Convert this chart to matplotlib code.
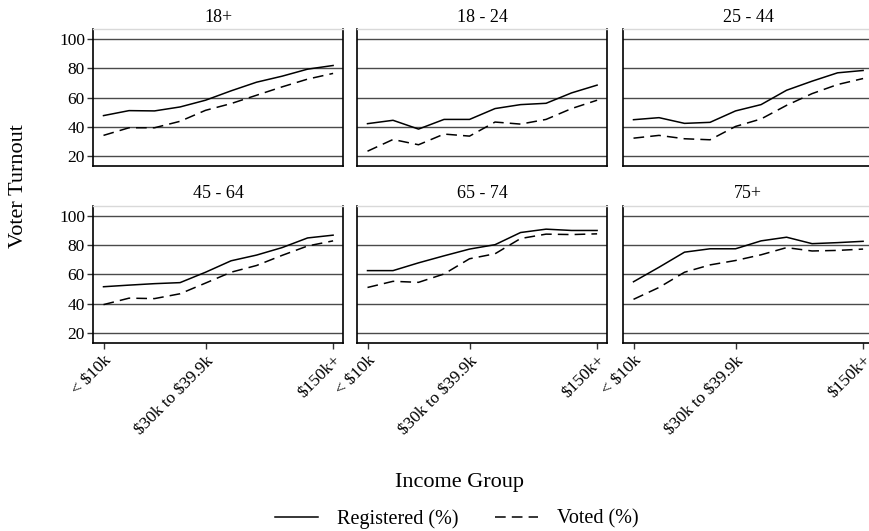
import matplotlib
matplotlib.use("Agg")
import matplotlib.pyplot as plt
from matplotlib.lines import Line2D

plt.rcParams['font.family'] = ['Liberation Serif', 'DejaVu Serif']

income_groups = ["< $10k", "$10k to $14.9k", "$15k to $19.9k", "$20k to $29.9k",
                 "$30k to $39.9k", "$40k to $49.9k", "$50k to $74.9k",
                 "$75k to $99.9k", "$100k to $149.9k", "$150k+"]
shown_ticks = [0, 4, 9]

age_groups = ["18+", "18 - 24", "25 - 44", "45 - 64", "65 - 74", "75+"]

registered = {
    "18+":     [47.7, 51.1, 50.9, 53.6, 58.2, 64.6, 70.5, 74.6, 79.4, 81.9],
    "18 - 24": [42.2, 44.5, 38.5, 45.1, 45.1, 52.5, 55.2, 56.1, 63.2, 68.5],
    "25 - 44": [44.9, 46.3, 42.4, 43.1, 50.9, 55.2, 65.0, 71.2, 76.9, 78.5],
    "45 - 64": [51.5, 52.6, 53.6, 54.3, 61.4, 69.2, 73.1, 78.2, 84.8, 86.7],
    "65 - 74": [62.5, 62.5, 67.8, 72.6, 77.2, 80.2, 88.5, 90.8, 89.9, 89.9],
    "75+":     [54.9, 64.8, 75.1, 77.4, 77.4, 82.8, 85.3, 80.9, 81.6, 82.5],
}
voted = {
    "18+":     [34.2, 39.4, 39.4, 43.8, 51.3, 55.9, 61.6, 67.3, 72.6, 76.5],
    "18 - 24": [23.4, 31.4, 27.8, 35.1, 33.7, 43.3, 41.9, 45.1, 52.5, 58.2],
    "25 - 44": [32.3, 34.2, 31.9, 31.2, 40.3, 45.4, 54.7, 62.7, 68.9, 73.0],
    "45 - 64": [39.3, 43.7, 43.4, 46.7, 54.0, 61.4, 66.0, 72.9, 79.3, 82.8],
    "65 - 74": [51.0, 55.2, 54.5, 60.2, 70.6, 74.0, 84.4, 87.4, 87.1, 87.6],
    "75+":     [42.9, 51.0, 61.4, 66.4, 69.4, 73.3, 78.2, 75.9, 76.3, 77.2],
}
y_ticks = [20, 40, 60, 80, 100]

W, H = 870, 531
fig = plt.figure(figsize=(W / 100, H / 100), dpi=100)

lefts = [93.3, 357.3, 623.3]
tops = [29.3, 206.0]
aw, ah = 250.0, 137.0

dash = (0, (7, 4))
for i, age in enumerate(age_groups):
    r, c = divmod(i, 3)
    x0 = lefts[c] / W
    y0 = 1 - (tops[r] + ah) / H
    ax = fig.add_axes([x0, y0, aw / W, ah / H])
    xs = list(range(len(income_groups)))
    for yt in y_ticks:
        ax.axhline(yt, color='#4a4a4a', lw=1.0, zorder=1)
    ax.plot(xs, registered[age], color='black', lw=1.1, zorder=3)
    ax.plot(xs, voted[age], color='black', lw=1.1, linestyle=dash, zorder=3)
    ax.set_xlim(-0.4, 9.4)
    ax.set_ylim(13.1, 106.6)
    for s in ['left', 'bottom', 'right']:
        ax.spines[s].set_color('black')
        ax.spines[s].set_linewidth(1.2)
    ax.spines['top'].set_color('#d9d9d9')
    ax.spines['top'].set_linewidth(1.0)
    ax.set_title(age, fontsize=13, pad=5.5)
    if c == 0:
        ax.set_yticks(y_ticks)
        ax.set_yticklabels([str(v) for v in y_ticks], fontsize=12.5)
        ax.tick_params(axis='y', length=4, width=1, color='#333333', pad=2)
    else:
        ax.set_yticks([])
    if r == 1:
        ax.set_xticks(shown_ticks)
        labels = [ax.text(0, 0, "") for _ in []]
        ax.set_xticklabels([income_groups[k] for k in shown_ticks], fontsize=12.5,
                           rotation=45, ha='right', rotation_mode='anchor')
        for lab in ax.get_xticklabels():
            lab.set_parse_math(False)
        ax.tick_params(axis='x', length=4, width=1, color='#333333', pad=3)
    else:
        ax.set_xticks([])

fig.text(19 / W, 1 - 186 / H, "Voter Turnout", rotation=90, fontsize=16,
         ha='center', va='center')
fig.text(460 / W, 1 - 486.5 / H, "Income Group", fontsize=16,
         ha='center', va='baseline')

handles = [Line2D([], [], color='black', lw=1.1),
           Line2D([], [], color='black', lw=1.1, linestyle=dash)]
fig.legend(handles, ["Registered (%)", "Voted (%)"], loc='center',
           bbox_to_anchor=(457 / W, 1 - 519 / H), ncol=2, frameon=False,
           fontsize=14.5, handlelength=2.15, handletextpad=0.95,
           columnspacing=1.8, borderpad=0)

fig.savefig("out.png", dpi=100)
